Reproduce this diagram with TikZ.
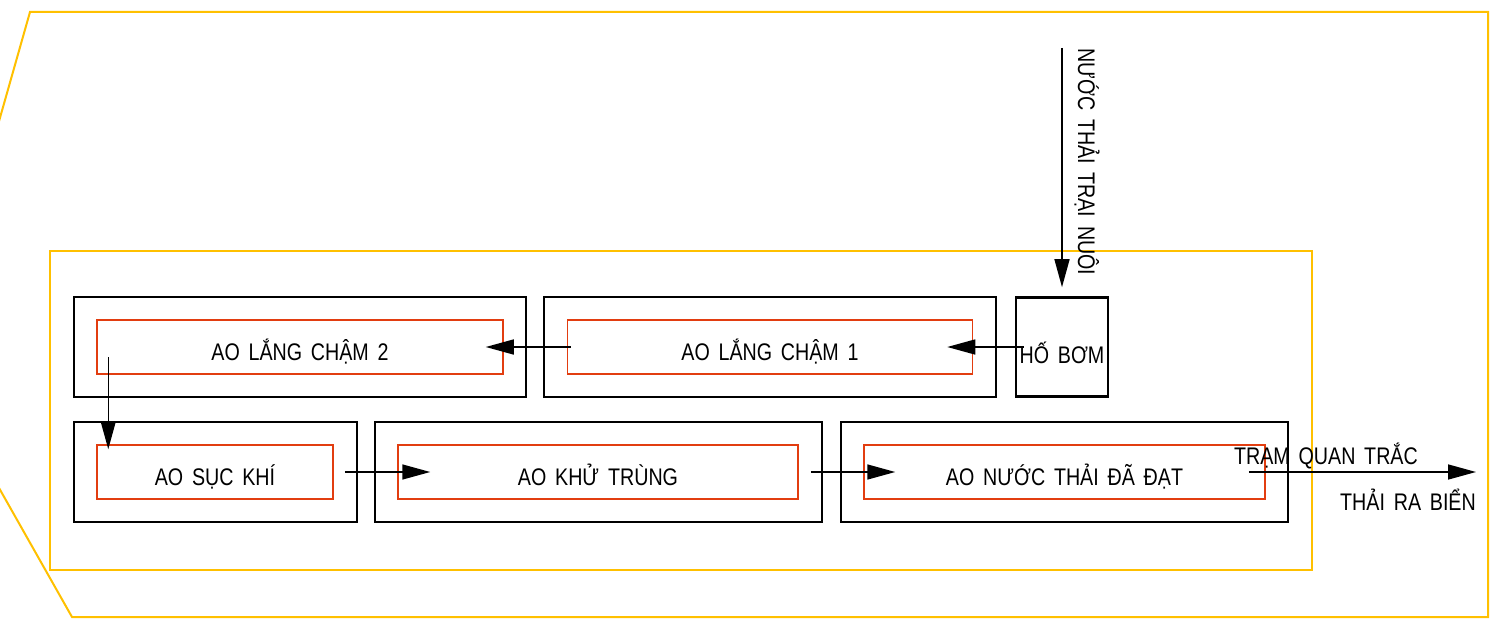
\documentclass[tikz,border=0pt]{standalone}
\usepackage{fontspec}
\setmainfont{Liberation Sans}[FakeStretch=0.82, WordSpace=1.6]
\usepackage{tikz}
\usetikzlibrary{positioning,arrows.meta}
\definecolor{frameyellow}{RGB}{255,192,0}
\definecolor{pondred}{RGB}{226,61,16}

\begin{document}
\begin{tikzpicture}[x=1pt, y=-1pt, font=\fontsize{24}{28}\selectfont,
  tank/.style={draw=black, line width=1.8pt, minimum height=100pt, inner sep=0pt},
  pond/.style={draw=pondred, line width=1.5pt, minimum height=54pt, inner sep=0pt, text height=26pt, text depth=0pt},
  flow/.style={line width=1.5pt, -{Triangle[length=28pt, width=15pt]}},
  frame/.style={draw=frameyellow, line width=2pt}]
\useasboundingbox (0,0) rectangle (1496,631);
\draw[frame] (30,12) -- (1488,12) -- (1488,617) -- (72,617) -- (-10,472) -- (-10,153) -- cycle;
\draw[frame] (50,251) rectangle (1312,570);
% upper row
\node[tank, minimum width=452pt] (lc2tank) at (300,347) {};
\node[pond, minimum width=406pt] (lc2) at (300,347) {AO LẮNG CHẬM 2};
\node[tank, minimum width=452pt] (lc1tank) at (770,347) {};
\node[pond, minimum width=405pt] (lc1) at (770,347) {AO LẮNG CHẬM 1};
\node[draw=black, line width=2.6pt, minimum width=92pt, minimum height=99pt, inner sep=0pt, text height=32pt, text depth=0pt] (hb) at (1062,347) {HỐ BƠM};
% lower row
\node[tank, minimum width=283pt] (sktank) at (215.5,472) {};
\node[pond, minimum width=236pt] (sk) at (215,472) {AO SỤC KHÍ};
\node[tank, minimum width=447pt] (kttank) at (598.5,472) {};
\node[pond, minimum width=400pt] (kt) at (598,472) {AO KHỬ TRÙNG};
\node[tank, minimum width=447pt] (ndtank) at (1064.5,472) {};
\node[pond, minimum width=401pt] (nd) at (1064.5,472) {AO NƯỚC THẢI ĐÃ ĐẠT};
% flows
\coordinate (inlet) at (1062,48);
\coordinate (sea) at (1476,472);
\draw[flow, shorten >=9pt] (inlet) -- (hb);
\draw[flow] ([xshift=9pt]hb.west) -- ([xshift=-26pt]lc1.east);
\draw[flow] ([xshift=4pt]lc1.west) -- ([xshift=-18pt]lc2.east);
\draw[flow] ([xshift=12pt,yshift=-10pt]lc2.west) -- ([xshift=12pt,yshift=-5pt]sk.north west);
\draw[flow] ([xshift=11pt]sk.east) -- ([xshift=33pt]kt.west);
\draw[flow] ([xshift=12pt]kt.east) -- ([xshift=32pt]nd.west);
\draw[flow] ([xshift=-17pt]nd.east) -- (sea);
% labels
\node[anchor=base west, rotate=-90, inner sep=0pt] (inlbl) at (1078,48) {NƯỚC THẢI TRẠI NUÔI};
\node[anchor=base east, inner sep=0pt] (qtlbl) at (1418,464) {TRẠM QUAN TRẮC};
\node[anchor=base east, inner sep=0pt] (sealbl) at (1476,510) {THẢI RA BIỂN};
\end{tikzpicture}
\end{document}
